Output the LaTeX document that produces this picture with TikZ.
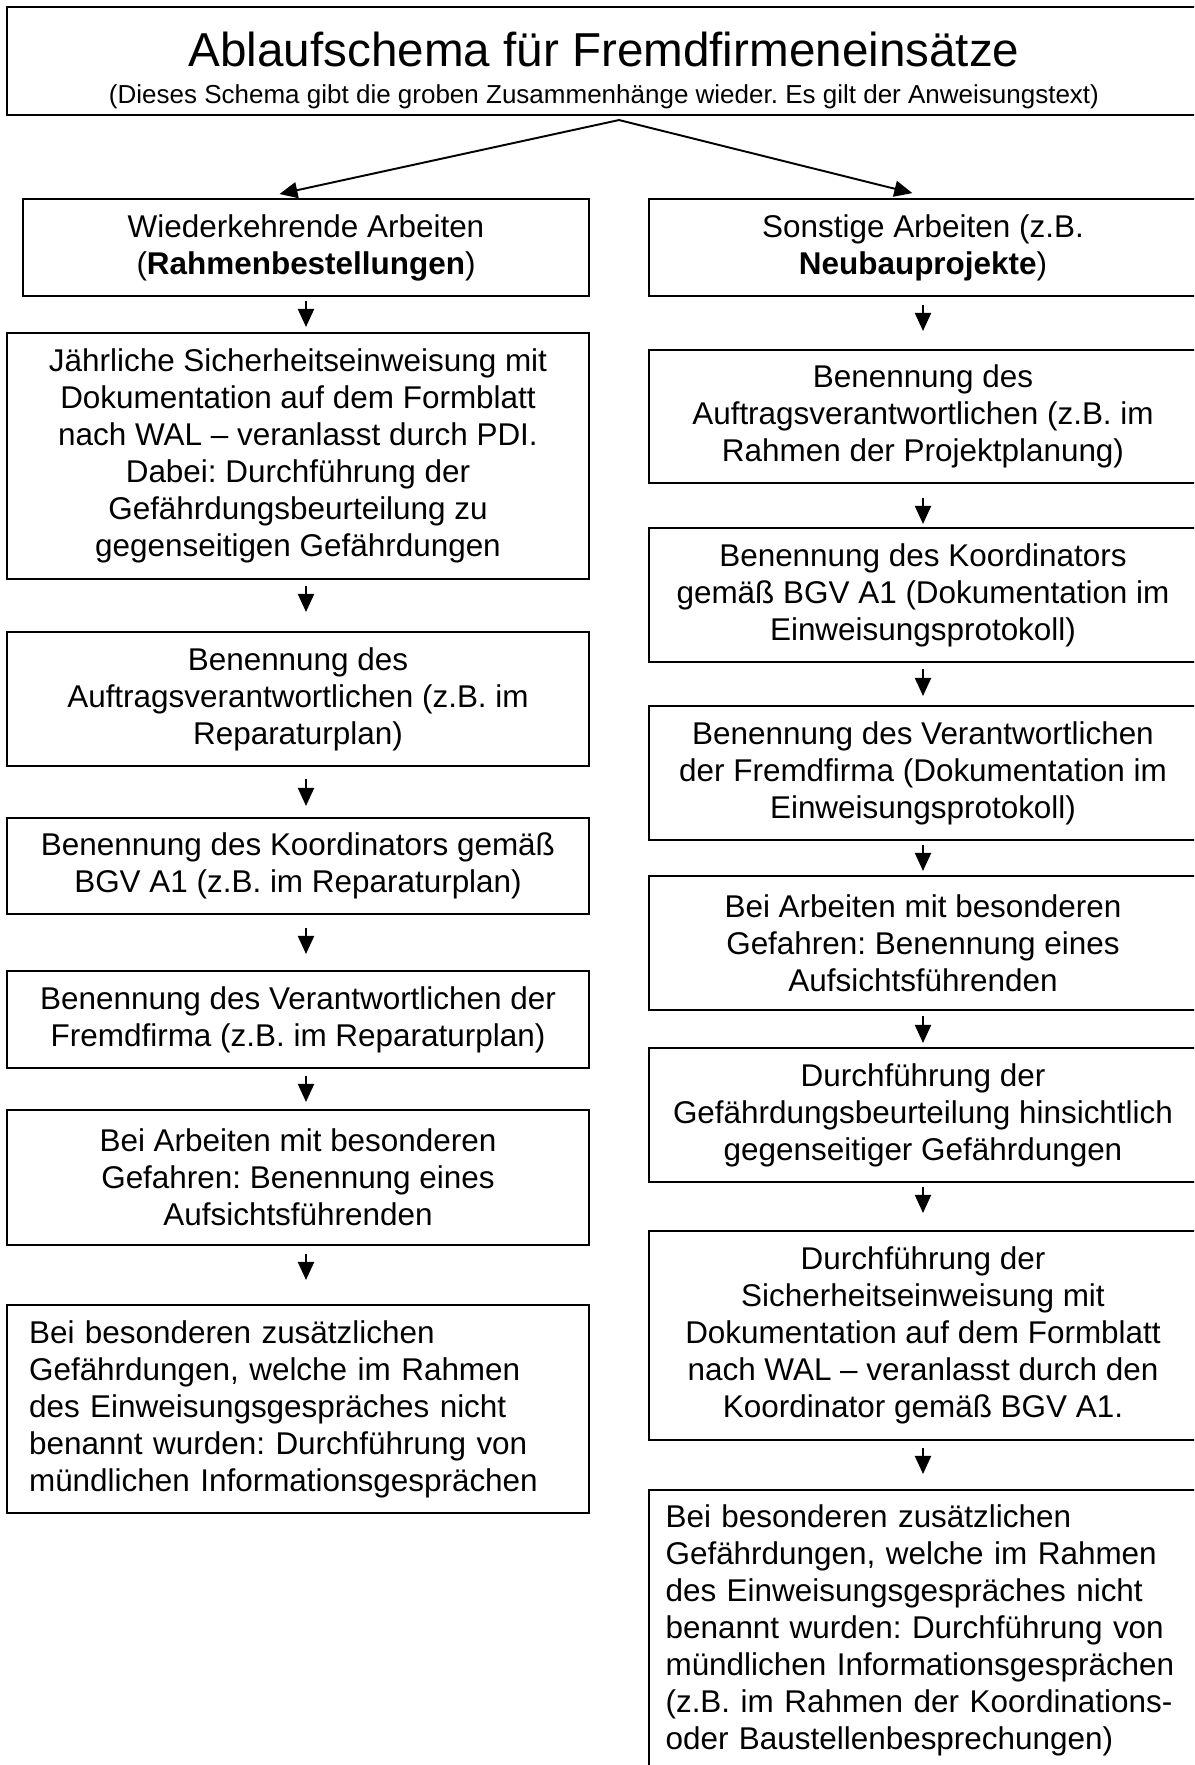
\documentclass[tikz,border=0pt]{standalone}
\usepackage{fontspec}
\setmainfont{Liberation Sans}
\usepackage{tikz}
\usetikzlibrary{calc,arrows.meta}
\usetikzlibrary{positioning}
\frenchspacing

\begin{document}
\begin{tikzpicture}[x=0.02cm, y=-0.02cm,
  every node/.style={rectangle, draw=black, line width=1.2pt, inner sep=0pt,
    align=center, font=\fontsize{17.9pt}{21.05pt}\selectfont},
  flow/.style={-{Triangle[length=0.36cm, width=0.32cm]}, line width=1.1pt},
  gap/.style 2 args={shorten <=#1cm, shorten >=#2cm}
]

\useasboundingbox (0,0) rectangle (1194,1765);
\clip (0,0) rectangle (1194,1765);

% Column styles
\tikzset{
  lcol/.style={minimum width=11.64cm},
  rcol/.style={minimum width=10.96cm}
}

% Title box
\node[minimum width=23.88cm, minimum height=2.16cm] (T) at (604,61)
  {\rule{0pt}{1.05cm}{\fontsize{27.1pt}{32pt}\selectfont Ablaufschema für Fremdfirmeneinsätze}\\
   {\fontsize{14.8pt}{18pt}\selectfont (Dieses Schema gibt die groben Zusammenhänge wieder. Es gilt der Anweisungstext)}};
\coordinate (split) at ([xshift=0.3cm, yshift=-0.08cm]T.south);

% ---- Left column ----
\node[minimum width=11.32cm, minimum height=1.94cm] (L1) at (306,247.5)
  {Wiederkehrende Arbeiten\\(\textbf{Rahmenbestellungen})};
\node[lcol, minimum height=4.92cm] (L2) at (298,456)
  {Jährliche Sicherheitseinweisung mit\\Dokumentation auf dem Formblatt\\nach WAL – veranlasst durch PDI.\\Dabei: Durchführung der\\Gefährdungsbeurteilung zu\\gegenseitigen Gefährdungen};
\node[lcol, minimum height=2.68cm] (L3) at (298,699)
  {Benennung des\\Auftragsverantwortlichen (z.B. im\\Reparaturplan)};
\node[lcol, minimum height=1.92cm] (L4) at (298,866)
  {Benennung des Koordinators gemäß\\BGV A1 (z.B. im Reparaturplan)};
\node[lcol, minimum height=1.94cm] (L5) at (298,1019.5)
  {Benennung des Verantwortlichen der\\Fremdfirma (z.B. im Reparaturplan)};
\node[lcol, minimum height=2.70cm] (L6) at (298,1177.5)
  {Bei Arbeiten mit besonderen\\Gefahren: Benennung eines\\Aufsichtsführenden};
\node[lcol, minimum height=4.16cm, text width=10.76cm, align=left] (L7) at (298,1409)
  {Bei besonderen zusätzlichen\\Gefährdungen, welche im Rahmen\\des Einweisungsgespräches nicht\\benannt wurden: Durchführung von\\mündlichen Informationsgesprächen};

% ---- Right column ----
\node[rcol, minimum height=1.94cm] (R1) at (923,247.5)
  {Sonstige Arbeiten (z.B.\\\textbf{Neubauprojekte})};
\node[rcol, minimum height=2.66cm] (R2) at (923,416.5)
  {Benennung des\\Auftragsverantwortlichen (z.B. im\\Rahmen der Projektplanung)};
\node[rcol, minimum height=2.68cm] (R3) at (923,595)
  {Benennung des Koordinators\\gemäß BGV A1 (Dokumentation im\\Einweisungsprotokoll)};
\node[rcol, minimum height=2.68cm] (R4) at (923,773)
  {Benennung des Verantwortlichen\\der Fremdfirma (Dokumentation im\\Einweisungsprotokoll)};
\node[rcol, minimum height=2.68cm] (R5) at (923,943)
  {Bei Arbeiten mit besonderen\\Gefahren: Benennung eines\\Aufsichtsführenden};
\node[rcol, minimum height=2.68cm] (R6) at (923,1115)
  {Durchführung der\\Gefährdungsbeurteilung hinsichtlich\\gegenseitiger Gefährdungen};
\node[rcol, minimum height=4.18cm] (R7) at (923,1335.5)
  {Durchführung der\\Sicherheitseinweisung mit\\Dokumentation auf dem Formblatt\\nach WAL – veranlasst durch den\\Koordinator gemäß BGV A1.};
\node[rcol, minimum height=5.6cm, text width=10.3cm, align=left] (R8) at (923,1630)
  {Bei besonderen zusätzlichen\\Gefährdungen, welche im Rahmen\\des Einweisungsgespräches nicht\\benannt wurden: Durchführung von\\mündlichen Informationsgesprächen\\(z.B. im Rahmen der Koordinations-\\oder Baustellenbesprechungen)};

% ---- Arrows ----
\draw[flow, shorten >=0.37cm] (split) -- (L1.132);
\draw[flow, shorten >=0.4cm] (split) -- (R1.80);

\draw[flow, gap={0.08}{0.10}] (L1.south) -- (L2.north -| L1);
\draw[flow, gap={0.12}{0.38}] (L2.south -| L1) -- (L3.north -| L1);
\draw[flow, gap={0.24}{0.22}] (L3.south -| L1) -- (L4.north -| L1);
\draw[flow, gap={0.26}{0.32}] (L4.south -| L1) -- (L5.north -| L1);
\draw[flow, gap={0.14}{0.14}] (L5.south -| L1) -- (L6.north -| L1);
\draw[flow, gap={0.16}{0.48}] (L6.south -| L1) -- (L7.north -| L1);

\draw[flow, gap={0.16}{0.36}] (R1) -- (R2);
\draw[flow, gap={0.28}{0.06}] (R2) -- (R3);
\draw[flow, gap={0.12}{0.18}] (R3) -- (R4);
\draw[flow, gap={0.08}{0.08}] (R4) -- (R5);
\draw[flow, gap={0.10}{0.08}] (R5) -- (R6);
\draw[flow, gap={0.08}{0.34}] (R6) -- (R7);
\draw[flow, gap={0.14}{0.30}] (R7) -- (R8);

\end{tikzpicture}
\end{document}
